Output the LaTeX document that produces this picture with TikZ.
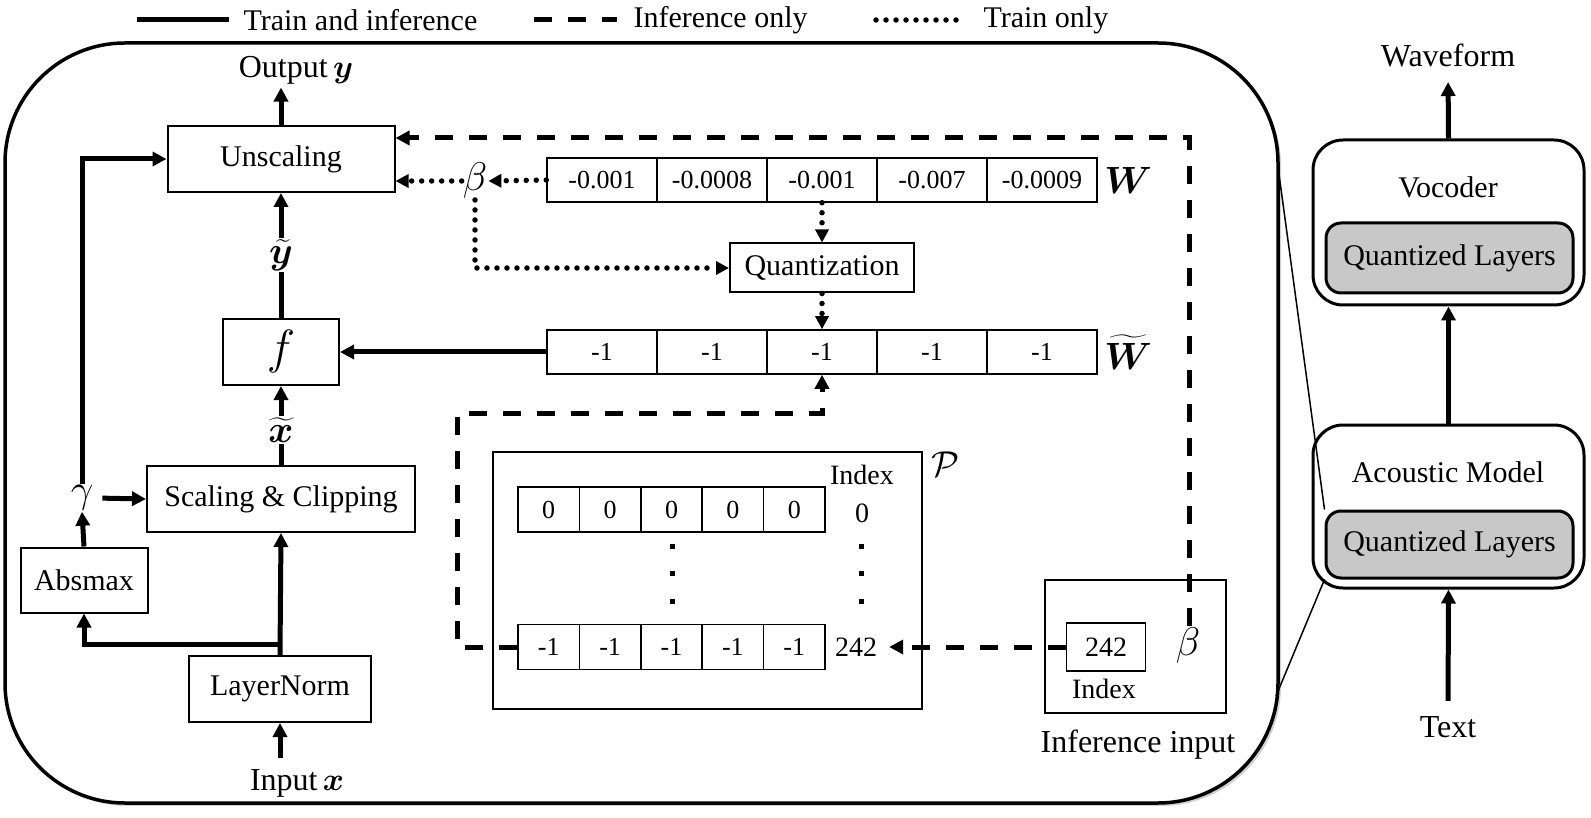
\RequirePackage{fix-cm}
\documentclass[tikz,border=0pt]{standalone}
\usepackage{amsmath, bm}
\usepackage{fontspec}
\setmainfont{Liberation Serif}
\usetikzlibrary{arrows.meta, positioning, shadows, calc}
\definecolor{LayerGrau}{RGB}{200,200,200}

\begin{document}
\begin{tikzpicture}[x=1pt, y=-1pt, >={Triangle[length=14pt, width=14pt]},
    font=\fontsize{30}{34}\selectfont,
    block/.style={draw, line width=2pt, inner sep=0pt, minimum height=66pt},
    cell/.style={draw, line width=1.5pt, inner sep=0pt, minimum width=110pt, minimum height=44pt, font=\fontsize{26}{30}\selectfont},
    pcell/.style={draw, line width=1.5pt, inner sep=0pt, minimum width=61.4pt, minimum height=45pt, font=\fontsize{26}{30}\selectfont},
    both/.style={line width=5pt},
    infer/.style={line width=5pt, dash pattern=on 18pt off 16pt},
    train/.style={line width=5.5pt, line cap=round, dash pattern=on 0pt off 10pt, >={Triangle[length=13pt, width=13pt]}},
    model/.style={draw, line width=3pt, rounded corners=30pt, minimum width=271pt},
    qlayer/.style={draw, line width=3pt, rounded corners=15pt, fill=LayerGrau, inner sep=0pt, minimum width=247pt},
    big/.style={font=\fontsize{32}{36}\selectfont},
    sym/.style={font=\fontsize{40}{44}\selectfont, inner sep=1pt}]
\useasboundingbox (0,0) rectangle (1591,818);

\coordinate (l1a) at (137,20);
\coordinate (l1b) at (229,20);
\coordinate (l2a) at (534,20);
\coordinate (l2b) at (617,20);
\coordinate (l3a) at (876,20);
\coordinate (l3b) at (966,20);
\draw[both] (l1a) -- (l1b);
\draw[infer] (l2a) -- (l2b);
\draw[train] (l3a) -- (l3b);
\node[anchor=west] (leg1) at (240,20) {Train and inference};
\node[anchor=west] (leg2) at (630,20) {Inference only};
\node[anchor=west] (leg3) at (980,20) {Train only};

\draw[line width=3.5pt, rounded corners=120pt, fill=white,
    drop shadow={shadow xshift=3pt, shadow yshift=-3pt, opacity=0.3, fill=black!60}] (5,43) rectangle (1278,803);

\node[block, minimum width=227pt] (unscale) at (281,159) {Unscaling};
\node[big] (out) at (296,70) {Output\,$\bm{y}$};
\node[block, minimum width=116pt, font=\fontsize{48}{52}\selectfont] (f) at (281,352) {$f$};
\node[font=\fontsize{38}{42}\selectfont, inner sep=1pt] (ytil) at (281,255) {$\widetilde{\bm{y}}$};
\node[block, minimum width=268pt] (scale) at (281,499) {Scaling \& Clipping};
\node[font=\fontsize{38}{42}\selectfont, inner sep=1pt] (xtil) at (281,430) {$\widetilde{\bm{x}}$};
\node[block, minimum width=182pt] (norm) at (280,689) {LayerNorm};
\node[big] (in) at (297,783) {Input\,$\bm{x}$};
\node[block, minimum width=127pt, minimum height=65pt] (absmax) at (84,580) {Absmax};
\node[sym] (gam) at (82,498) {$\gamma$};
\coordinate (split) at (280,644);

\draw[both, ->] (unscale.north) -- (unscale.north |- out.south);
\draw[both] (f.north) -- (ytil.south);
\draw[both, ->] (ytil.north) -- (unscale.south);
\draw[both] (scale.north) -- (xtil.south);
\draw[both, ->] (xtil.north) -- (f.south);
\draw[both, ->, shorten <=8pt] (in.north -| norm.south) -- (norm.south);
\draw[both, ->] (norm.north) -- (scale.south);
\draw[both, ->] (split) -| (absmax.south);
\draw[both, ->] (absmax.north) -- (gam.south);
\draw[both, ->, shorten <=8pt] (gam.east) -- (scale.west);
\draw[both, ->] (gam.north) |- (unscale.west);

\foreach \x/\v in {1/-0.001, 2/-0.0008, 3/-0.001, 4/-0.007, 5/-0.0009}
{
    \node[cell] (W\x) at ({492+110*\x}, 180) {\v};
    \node[cell] (Wq\x) at ({492+110*\x}, 352) {-1};
}
\node[font=\fontsize{38}{42}\selectfont, right=3pt of W5] (Wlab) {$\bm{W}$};
\node[font=\fontsize{38}{42}\selectfont, right=3pt of Wq5] (Wqlab) {$\widetilde{\bm{W}}$};
\node[sym] (beta) at (475,181) {$\beta$};
\node[block, minimum width=184pt, minimum height=49pt] (quant) at (822,268) {Quantization};

\draw[train, ->] (W1.west) -- (beta.east);
\draw[train, ->] (beta.west) -- (beta.west -| unscale.east);
\draw[train, ->] (beta.south) |- (quant.west);
\draw[train, ->] (W3.south) -- (quant.north);
\draw[train, ->] (quant.south) -- (Wq3.north);
\draw[both, ->] (Wq1.west) -- (f.east);

\node[draw, line width=2pt, minimum width=429pt, minimum height=257pt] (P) at (707.5,580.5) {};
\node[font=\fontsize{36}{40}\selectfont] (Plab) at (945,464) {$\mathcal{P}$};
\foreach \x in {1,...,5}
{
    \node[pcell] (Pa\x) at ({487.3+61.4*\x}, 509.5) {0};
    \node[pcell] (Pb\x) at ({487.3+61.4*\x}, 647) {-1};
}
\node[font=\fontsize{28}{32}\selectfont] (pidx) at (862,475) {Index};
\node[font=\fontsize{28}{32}\selectfont] (pzero) at (862,513) {0};
\node[font=\fontsize{28}{32}\selectfont, inner sep=2pt] (prow) at (856,647) {242};
\foreach \y in {546,573,601}
{
    \fill (669.5,\y-2.5) rectangle ++(5,5);
    \fill (858.5,\y-2.5) rectangle ++(5,5);
}

\node[draw, line width=2pt, minimum width=181pt, minimum height=133pt] (inf) at (1135.5,646.5) {};
\node[draw, line width=1.5pt, inner sep=0pt, minimum width=79pt, minimum height=48pt, font=\fontsize{28}{32}\selectfont] (icell) at (1106,647) {242};
\node[font=\fontsize{28}{32}\selectfont] (iidx) at (1104,689) {Index};
\node[sym] (ibeta) at (1188,645) {$\beta$};
\node[big] (inflab) at (1138,745) {Inference input};
\coordinate (dtop) at (1189,138);
\coordinate (dlow) at (457,647);
\coordinate (dhigh) at (457,413);

\draw[infer, ->, shorten >=10pt] (icell.west) -- (prow.east);
\draw[infer, ->] (ibeta.north -| dtop) -- (dtop) -- (dtop -| unscale.east);
\draw[infer, ->] (Pb1.west) -- (dlow) -- (dhigh) -| (Wq3.south);

\node[model, minimum height=165pt] (voc) at (1448.5,222.5) {};
\node (voclab) at (1448,187) {Vocoder};
\node[qlayer, minimum height=70pt] (vq) at (1449.5,258) {Quantized Layers};
\node[model, minimum height=163pt] (ac) at (1448.5,506.5) {};
\node (aclab) at (1448,472) {Acoustic Model};
\node[qlayer, minimum height=67pt] (aq) at (1449.5,544.5) {Quantized Layers};
\node[big] (wave) at (1448,55) {Waveform};
\node[big] (text) at (1448,727) {Text};
\coordinate (zoomA) at (1278,167);
\coordinate (zoomB) at (1276,696);

\draw[both, ->, shorten >=12pt] (voc.north) -- (wave.south);
\draw[both, ->] (ac.north) -- (voc.south);
\draw[both, ->, shorten <=12pt] (text.north) -- (ac.south);
\draw[line width=1.5pt] (zoomA) -- (aq.north west);
\draw[line width=1.5pt] (zoomB) -- (aq.south west);
\end{tikzpicture}
\end{document}
